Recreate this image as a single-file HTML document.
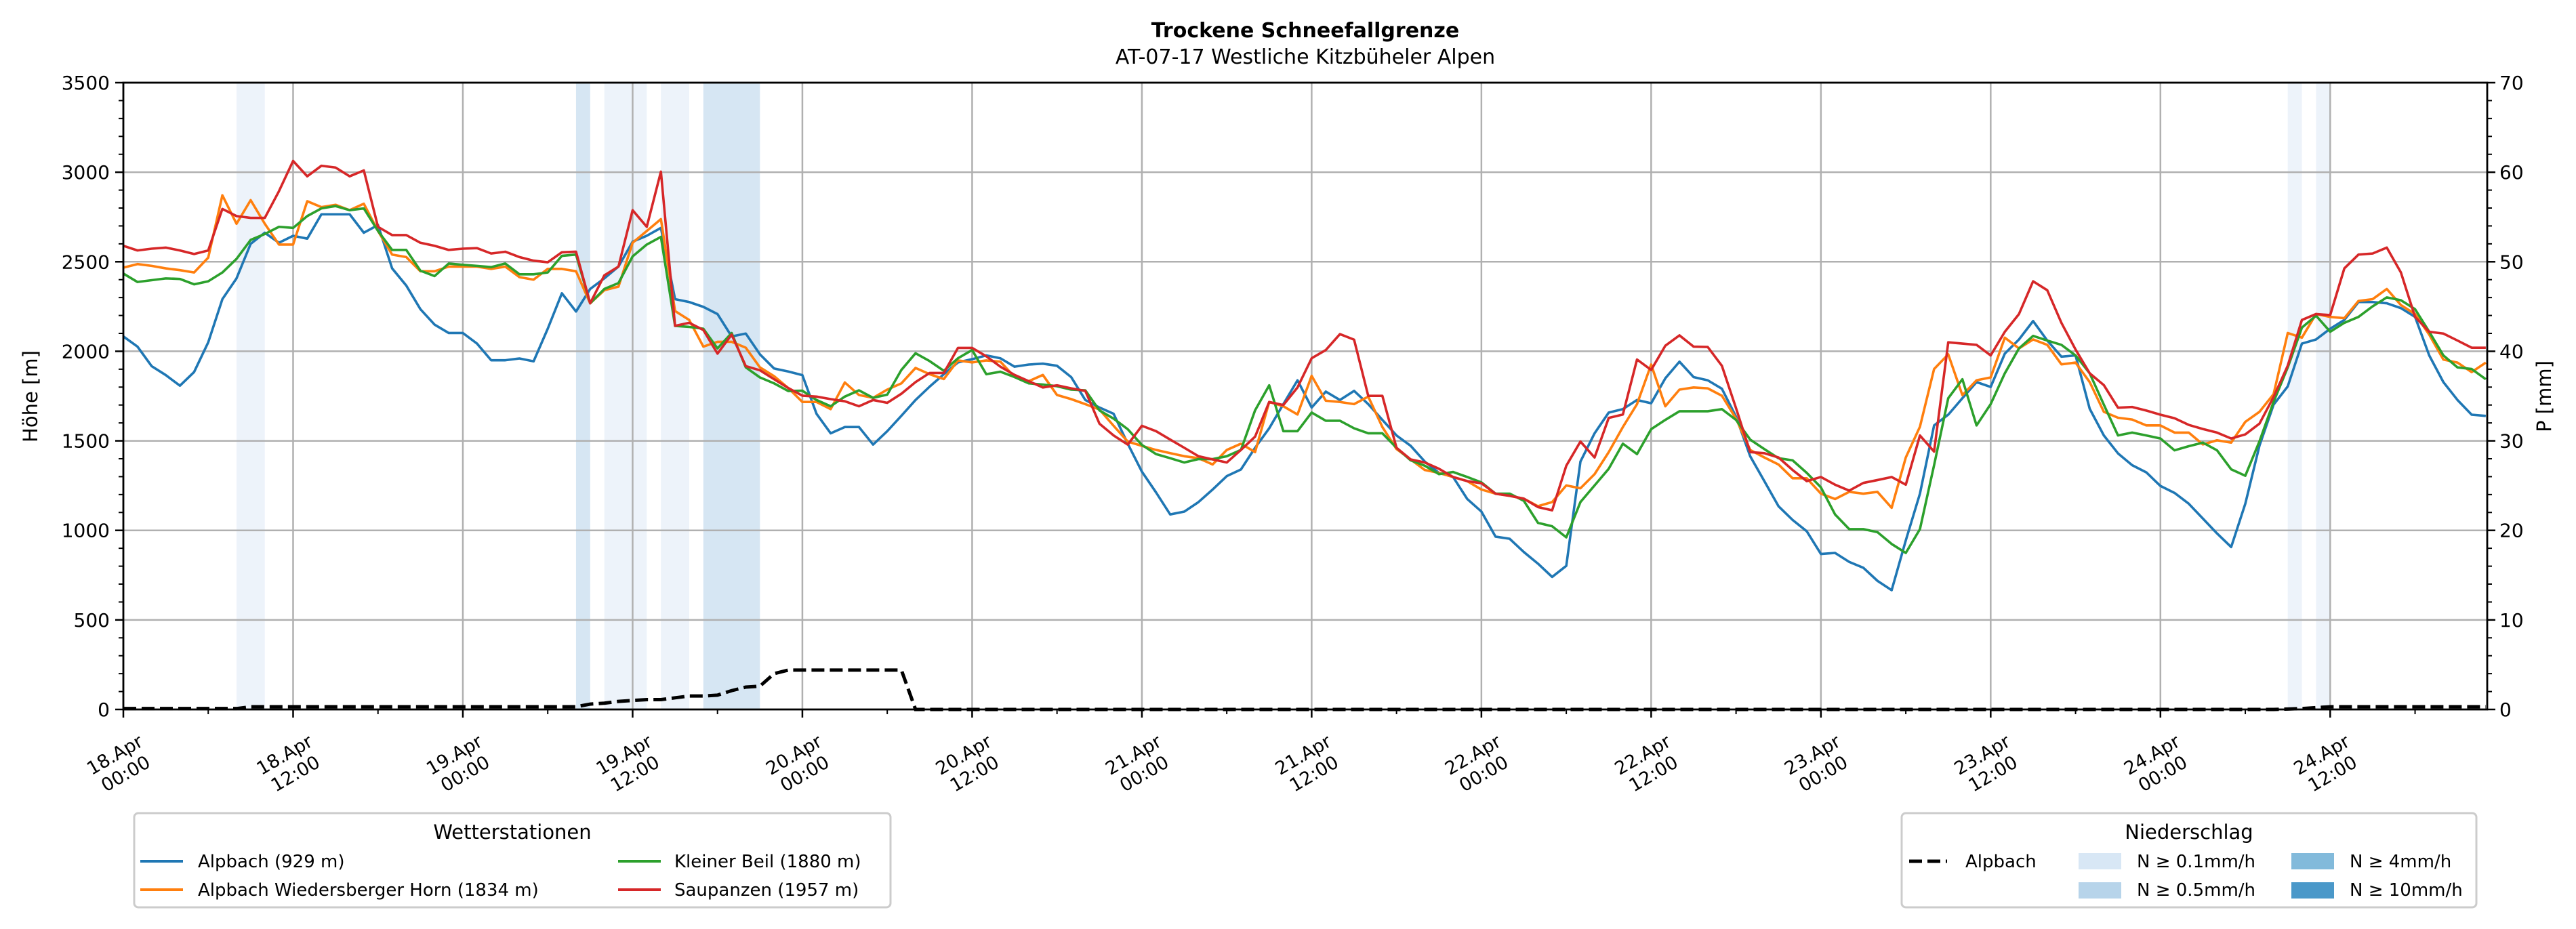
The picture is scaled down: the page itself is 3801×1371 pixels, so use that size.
<!DOCTYPE html>
<html><head><meta charset="utf-8">
<style>
html,body{margin:0;padding:0;background:#fff;}
svg{display:block;font-family:"DejaVu Sans","Liberation Sans",sans-serif;}
</style></head>
<body>
<svg id="chart" width="3801" height="1371" viewBox="0 0 3801 1371" xmlns="http://www.w3.org/2000/svg">
<text x="1926" y="55" text-anchor="middle" font-size="30" font-weight="bold">Trockene Schneefallgrenze</text>
<text x="1926" y="94" text-anchor="middle" font-size="30">AT-07-17 Westliche Kitzbüheler Alpen</text>
<g id="plot"></g>
<text transform="translate(55,585) rotate(-90)" text-anchor="middle" font-size="29">Höhe [m]</text>
<text transform="translate(3764,585) rotate(-90)" text-anchor="middle" font-size="29">P [mm]</text>

<g>
<rect x="198" y="1200" width="1116" height="139" rx="6" fill="#fff" stroke="#cccccc" stroke-width="3"/>
<text x="756" y="1238" text-anchor="middle" font-size="29">Wetterstationen</text>
<g><line x1="207" y1="1271" x2="270" y2="1271" stroke="#1f77b4" stroke-width="4"/><text x="292" y="1280" font-size="26">Alpbach (929 m)</text></g>
<g><line x1="207" y1="1313" x2="270" y2="1313" stroke="#ff7f0e" stroke-width="4"/><text x="292" y="1322" font-size="26">Alpbach Wiedersberger Horn (1834 m)</text></g>
<g><line x1="912" y1="1271" x2="975" y2="1271" stroke="#2ca02c" stroke-width="4"/><text x="995" y="1280" font-size="26">Kleiner Beil (1880 m)</text></g>
<g><line x1="912" y1="1313" x2="975" y2="1313" stroke="#d62728" stroke-width="4"/><text x="995" y="1322" font-size="26">Saupanzen (1957 m)</text></g>
</g>

<g>
<rect x="2806" y="1200" width="848" height="139" rx="6" fill="#fff" stroke="#cccccc" stroke-width="3"/>
<text x="3230" y="1238" text-anchor="middle" font-size="29">Niederschlag</text>
<g><line x1="2817" y1="1271" x2="2873" y2="1271" stroke="#000" stroke-width="5" stroke-dasharray="19 8"/><text x="2900" y="1280" font-size="26">Alpbach</text></g>
<g><rect x="3067" y="1259" width="63" height="24" fill="#d8e7f5"/><text x="3153" y="1280" font-size="26">N ≥ 0.1mm/h</text></g>
<g><rect x="3067" y="1302" width="63" height="24" fill="#b7d4ea"/><text x="3153" y="1322" font-size="26">N ≥ 0.5mm/h</text></g>
<g><rect x="3381" y="1259" width="63" height="24" fill="#82badb"/><text x="3467" y="1280" font-size="26">N ≥ 4mm/h</text></g>
<g><rect x="3381" y="1302" width="63" height="24" fill="#4a98c9"/><text x="3467" y="1322" font-size="26">N ≥ 10mm/h</text></g>
</g>
</svg>
<script>
const alpbach = [2083,2026,1917,1867,1808,1884,2050,2291,2407,2600,2662,2606,2645,2629,2765,2765,2765,2662,2705,2463,2367,2235,2149,2102,2102,2043,1950,1950,1960,1944,2126,2324,2222,2348,2407,2473,2612,2645,2689,2291,2275,2248,2208,2083,2099,1983,1904,1887,1867,
1651,1542,1577,1577,1479,1554,1640,1728,1803,1872,1938,1956,1977,1961,1914,1926,1931,1919,1856,1728,1686,1651,1484,1328,1212,1089,1105,1158,1228,1303,1340,1461,1570,1705,1838,1686,
1775,1728,1779,1705,1617,1530,1472,1384,1321,1298,1175,1105,965,953,879,814,740,802,1384,1542,1658,1677,1728,1710,1849,1942,1856,1838,1791,1635,1414,1275,1135,1058,995,868,
874,824,791,718,666,944,1205,1586,1646,1738,1828,1801,1987,2066,2169,2060,1970,1977,1679,1530,1430,1364,1324,1248,1209,1149,1066,983,907,1149,1473,1702,1804,2043,2066,2126,2175,2275,2275,2268,2241,2192,1977,1828,1728,1646,1639];
const wiedersberg = [2467,2487,2477,2463,2453,2440,2523,2871,2712,2844,2712,2596,2596,2838,2805,2818,2788,2824,2672,2540,2526,2447,2447,2473,2473,2473,2460,2473,2414,2400,2460,2460,2447,2268,2341,2361,2606,2672,2738,2225,2175,2026,2053,2053,2020,1910,1861,1795,1717,
1717,1677,1826,1756,1740,1786,1821,1907,1872,1845,1949,1938,1949,1942,1856,1833,1868,1756,1733,1705,1675,1584,1496,1472,1449,1431,1414,1403,1368,1449,1484,1437,1717,1693,1647,1863,
1724,1717,1705,1747,1577,1454,1396,1337,1321,1298,1275,1228,1205,1193,1177,1135,1158,1251,1235,1314,1437,1577,1705,1926,1693,1786,1798,1793,1752,1624,1449,1407,1368,1291,1291,1205,
1175,1215,1205,1215,1126,1407,1579,1901,1983,1755,1838,1854,2076,2016,2066,2036,1927,1937,1828,1662,1629,1619,1586,1586,1546,1546,1480,1503,1490,1606,1662,1761,2102,2076,2208,2192,2185,2281,2291,2348,2258,2208,2093,1954,1937,1884,1937];
const kleinerBeil = [2434,2387,2397,2407,2404,2374,2391,2440,2516,2622,2655,2695,2689,2755,2798,2811,2788,2798,2672,2566,2566,2450,2420,2490,2483,2477,2470,2490,2430,2430,2440,2533,2540,2268,2348,2381,2530,2596,2639,2142,2136,2126,2016,2102,1910,1854,1821,1778,1780,
1728,1693,1747,1782,1740,1758,1896,1989,1945,1891,1961,2007,1872,1886,1856,1821,1814,1805,1786,1782,1670,1624,1565,1477,1426,1403,1379,1398,1398,1414,1449,1670,1810,1554,1554,1658,
1612,1612,1570,1542,1542,1461,1391,1361,1314,1326,1298,1268,1205,1205,1165,1042,1023,961,1158,1251,1344,1484,1426,1565,1617,1665,1665,1665,1677,1617,1507,1454,1403,1391,1321,1240,
1089,1007,1007,990,924,874,1007,1364,1738,1844,1586,1705,1877,2016,2086,2060,2036,1977,1877,1702,1530,1546,1530,1513,1447,1470,1490,1447,1341,1305,1497,1718,1910,2132,2199,2109,2159,2192,2251,2301,2285,2235,2109,1977,1910,1901,1844];
const saupanzen = [2589,2563,2573,2579,2563,2543,2563,2795,2755,2745,2745,2894,3063,2977,3036,3026,2977,3010,2695,2649,2649,2606,2589,2566,2573,2576,2546,2556,2526,2506,2497,2553,2556,2268,2424,2473,2788,2695,3003,2142,2159,2119,1987,2093,1917,1894,1844,1795,1752,
1747,1733,1721,1693,1728,1712,1763,1828,1879,1879,2019,2019,1972,1914,1868,1833,1798,1810,1793,1779,1596,1530,1479,1584,1554,1507,1461,1414,1396,1379,1449,1523,1717,1700,1798,
1961,2007,2096,2065,1751,1751,1461,1396,1379,1344,1298,1275,1263,1205,1193,1177,1130,1112,1361,1496,1407,1628,1647,1954,1896,2031,2089,2026,2024,1919,1682,1437,1431,1407,1337,1275,1298,
1255,1222,1265,1281,1298,1255,1530,1440,2050,2043,2036,1977,2109,2208,2391,2341,2159,2010,1877,1811,1685,1689,1669,1646,1626,1589,1566,1546,1513,1536,1596,1745,1920,2175,2208,2202,2463,2540,2546,2579,2440,2192,2109,2099,2060,2020,2020];
const precipAlpbach = [0.1,0.1,0.1,0.1,0.1,0.1,0.1,0.1,0.1,0.3,0.3,0.3,0.3,0.3,0.3,0.3,0.3,0.3,0.3,0.3,0.3,0.3,0.3,0.3,0.3,0.3,0.3,0.3,0.3,0.3,0.3,0.3,0.3,0.6,0.7,0.9,1.0,1.1,1.1,1.3,1.5,1.5,1.6,2.1,2.5,2.6,4.0,4.4,4.4,4.4,4.4,4.4,4.4,4.4,4.4,4.4,
0,0,0,0,0,0,0,0,0,0,0,0,0,0,0,0,0,0,0,0,0,0,0,0,0,0,0,0,0,0,0,0,0,0,0,0,0,0,0,0,0,0,0,0,0,0,0,0,0,0,0,0,0,0,0,0,0,0,0,0,0,0,0,0,0,0,0,0,0,0,0,0,0,0,0,0,0,0,0,0,0,0,0,0,0,0,0,0,0,0,0,0,0,0,0,0,0,
0.05,0.1,0.2,0.3,0.3,0.3,0.3,0.3,0.3,0.3,0.3,0.3,0.3,0.3,0.3];
const bandStart = [8,32,34,38,41,153,155];
const bandEnd = [10,33,37,40,45,154,156];
const bandLevel = [0.1,0.5,0.1,0.1,0.5,0.1,0.1];
const yTicks = [0,500,1000,1500,2000,2500,3000,3500];
const y2Ticks = [0,10,20,30,40,50,60,70];
const xTickHours = [0,12,24,36,48,60,72,84,96,108,120,132,144,156];
const xTickDates = ["18.Apr","18.Apr","19.Apr","19.Apr","20.Apr","20.Apr","21.Apr","21.Apr","22.Apr","22.Apr","23.Apr","23.Apr","24.Apr","24.Apr"];
const xTickTimes = ["00:00","12:00","00:00","12:00","00:00","12:00","00:00","12:00","00:00","12:00","00:00","12:00","00:00","12:00"];

const L=182,R=3670,T=122,B=1047,HMAX=167.1;
const NS="http://www.w3.org/2000/svg";
const xs=h=>L+h*(R-L)/HMAX;
const ys=v=>B-v*(B-T)/3500;
const y2=v=>B-v*(B-T)/70;
const plot=document.getElementById('plot');
function mk(tag,attrs,parent){const e=document.createElementNS(NS,tag);for(const k in attrs)e.setAttribute(k,attrs[k]);(parent||plot).appendChild(e);return e;}

const defs=mk('defs',{});
const cp=mk('clipPath',{id:'clip'},defs);mk('rect',{x:L,y:T,width:R-L,height:B-T},cp);

bandStart.forEach((s,i)=>{
  const r=mk('rect',{x:xs(s),y:T,width:xs(bandEnd[i])-xs(s),height:B-T,fill:bandLevel[i]>=0.5?'#d6e6f3':'#edf3fa'});
  
  
});
yTicks.forEach(v=>{
  const g=mk('line',{x1:L,x2:R,y1:ys(v),y2:ys(v),stroke:'#b0b0b0','stroke-width':2.5});
  
  
});
xTickHours.forEach(h=>{
  const g=mk('line',{x1:xs(h),x2:xs(h),y1:T,y2:B,stroke:'#b0b0b0','stroke-width':2.5});
  
  
});
const series=[[alpbach,'#1f77b4','line-alpbach'],[wiedersberg,'#ff7f0e','line-wiedersberger-horn'],[kleinerBeil,'#2ca02c','line-kleiner-beil'],[saupanzen,'#d62728','line-saupanzen']];
series.forEach(([d,c,n])=>{
  const p=mk('polyline',{points:d.map((v,i)=>xs(i)+','+ys(v)).join(' '),fill:'none',stroke:c,'stroke-width':3.6,'stroke-linejoin':'round','clip-path':'url(#clip)'});
  
  
});
const pl=mk('polyline',{points:precipAlpbach.map((v,i)=>xs(i)+','+y2(v)).join(' '),fill:'none',stroke:'#000','stroke-width':5,'stroke-dasharray':'19 8'});



const fr=mk('rect',{x:L,y:T,width:R-L,height:B-T,fill:'none',stroke:'#000','stroke-width':2.8});



for(let v=0;v<=3500;v+=100){const big=v%500===0;mk('line',{x1:L,x2:L-(big?12:7),y1:ys(v),y2:ys(v),stroke:'#000','stroke-width':big?2.5:2});}
for(let v=0;v<=70;v+=2){const big=v%10===0;mk('line',{x1:R,x2:R+(big?12:7),y1:y2(v),y2:y2(v),stroke:'#000','stroke-width':big?2.5:2});}
for(let h=0;h<=HMAX;h+=6){const big=h%12===0;mk('line',{x1:xs(h),x2:xs(h),y1:B,y2:B+(big?12:7),stroke:'#000','stroke-width':big?2.5:2});}

yTicks.forEach(v=>{const t=mk('text',{x:L-20,y:ys(v)+10,'text-anchor':'end','font-size':28});t.textContent=v;
  
  });
y2Ticks.forEach(v=>{const t=mk('text',{x:R+18,y:y2(v)+10,'font-size':28});t.textContent=v;
  
  });
xTickHours.forEach((h,i)=>{
  const g=mk('g',{transform:'translate('+(xs(h)-4)+','+(B+82)+') rotate(-30)'});
  
  
  const t1=mk('text',{x:0,y:-8,'text-anchor':'middle','font-size':27},g);t1.textContent=xTickDates[i];
  const t2=mk('text',{x:0,y:24,'text-anchor':'middle','font-size':27},g);t2.textContent=xTickTimes[i];
});
</script>
</body></html>
